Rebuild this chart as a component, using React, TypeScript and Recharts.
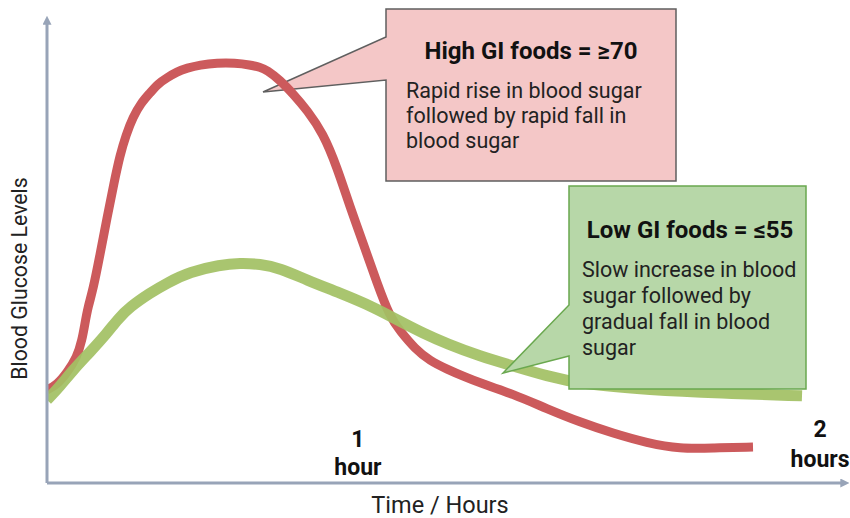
import React from "react";
import { LineChart, Line, XAxis, YAxis, Label } from "recharts";

// Minutes after eating (x) and relative blood glucose level (y, 0–100)
const highGiTime = [0, 2.01, 4.02, 6.03, 7.04, 7.64, 8.24, 9.25, 10.65, 12.06, 13.47, 14.67, 15.88, 17.29, 18.89, 20.7, 22.31, 24.12, 26.13, 28.14, 30.75, 34.17, 37.79, 40.8, 42.81, 44.22, 46.83, 49.65, 52.26, 55.48, 58.29, 60.9, 63.52, 66.33, 68.94, 70.95, 73.97, 76.98, 80.4, 84.02, 87.04, 93.67, 100.5, 107.14, 113.77, 120.6, 127.24, 133.87, 141.91];
const highGiLevel = [20.2, 21.3, 23.9, 27.3, 31.0, 34.7, 38.2, 41.9, 49.5, 57.5, 65.1, 71.1, 75.5, 79.4, 82.4, 84.6, 86.6, 87.9, 89.2, 90.0, 90.7, 91.1, 91.1, 90.7, 90.2, 89.6, 87.4, 84.2, 80.9, 75.9, 68.5, 59.9, 52.1, 43.4, 36.0, 33.0, 29.1, 26.5, 24.7, 23.0, 21.7, 19.3, 16.1, 13.2, 10.8, 8.7, 7.4, 7.6, 7.8];

const lowGiTime = [0, 2.61, 5.23, 8.64, 12.06, 14.27, 16.68, 20.7, 24.12, 28.74, 34.77, 38.79, 42.81, 46.83, 52.26, 58.89, 65.53, 70.35, 75.58, 80.4, 87.04, 93.67, 100.5, 107.14, 121.21, 135.28, 151.76];
const lowGiLevel = [18.0, 21.0, 24.5, 28.4, 32.5, 35.6, 38.2, 41.2, 43.4, 45.8, 47.3, 47.7, 47.5, 46.6, 44.0, 41.2, 38.2, 35.4, 32.5, 30.2, 27.5, 25.4, 23.2, 21.5, 20.2, 19.5, 18.9];

const hourTicks = [62.5, 155.4];
const hourTickLabels = [["1", "hour"], ["2", "hours"]];

const yAxisTitle = "Blood Glucose Levels";
const xAxisTitle = "Time / Hours";

const highTitle = "High GI foods = \u226570";
const highBody = ["Rapid rise in blood sugar", "followed by rapid fall in", "blood sugar"];
const lowTitle = "Low GI foods = \u226455";
const lowBody = ["Slow increase in blood", "sugar followed by", "gradual fall in blood", "sugar"];

const highData = highGiTime.map((t, i) => ({ t, v: highGiLevel[i] }));
const lowData = lowGiTime.map((t, i) => ({ t, v: lowGiLevel[i] }));

const FONT = "Roboto, 'Liberation Sans', sans-serif";
const AXIS = "#98a4b8";

const tickOffsets = [
  [-36, -8],
  [-46, -16],
];

const HourTick = (props: any) => {
  const { x, y, index } = props;
  const lines = hourTickLabels[index] || [];
  const offs = tickOffsets[index] || [0, 0];
  return (
    <g>
      {lines.map((s, i) => (
        <text
          key={i}
          x={x}
          y={y + offs[i]}
          textAnchor="middle"
          fontFamily={FONT}
          fontWeight={700}
          fontSize={23}
          fill="#111"
        >
          {s}
        </text>
      ))}
    </g>
  );
};

export default function App() {
  return (
    <div style={{ position: "absolute", left: 0, top: 0, width: 850, height: 518, background: "#fff" }}>
      {/* underlay: High GI callout */}
      <svg width={850} height={518} style={{ position: "absolute", left: 0, top: 0 }}>
        <defs>
          <marker id="axArrow" viewBox="0 0 10 10" refX="3" refY="5" markerWidth="3" markerHeight="3" orient="auto-start-reverse">
            <path d="M0,0 L10,5 L0,10 z" fill={AXIS} />
          </marker>
        </defs>
        <path
          d="M386,9 H676 V181 H386 V80 L263,92 L386,37 Z"
          fill="#f4c7c7"
          stroke="#5f5f5f"
          strokeWidth={1.5}
        />
        <text x={531} y={59} textAnchor="middle" fontFamily={FONT} fontWeight={700} fontSize={24} fill="#111">
          {highTitle}
        </text>
        {highBody.map((s, i) => (
          <text key={i} x={406} y={98 + i * 25} fontFamily={FONT} fontSize={21.5} fill="#222">
            {s}
          </text>
        ))}
      </svg>

      <div style={{ position: "absolute", left: 0, top: 0 }}>
        <LineChart width={850} height={518} margin={{ top: 22, right: 7, bottom: 0, left: 0 }}>
          <XAxis
            dataKey="t"
            type="number"
            domain={[0, 160]}
            ticks={hourTicks}
            tick={<HourTick />}
            tickLine={false}
            tickSize={0}
            tickMargin={0}
            height={35}
            axisLine={{ stroke: AXIS, strokeWidth: 3, markerEnd: "url(#axArrow)" }}
            allowDataOverflow
          >
            <Label
              content={(p: any) => {
                const vb = p.viewBox || { x: 47, y: 483, width: 796 };
                return (
                  <text x={vb.x + vb.width / 2 - 5} y={513} textAnchor="middle" fontFamily={FONT} fontSize={23.5} fill="#222">
                    {xAxisTitle}
                  </text>
                );
              }}
            />
          </XAxis>
          <YAxis
            type="number"
            domain={[0, 100]}
            tick={false}
            tickLine={false}
            width={47}
            axisLine={{ stroke: AXIS, strokeWidth: 3, markerStart: "url(#axArrow)" }}
          >
            <Label
              content={(p: any) => {
                const vb = p.viewBox || { x: 0, y: 22, width: 47, height: 461 };
                const cx = 19;
                const cy = vb.y + vb.height / 2 + 26;
                return (
                  <text
                    x={cx}
                    y={cy}
                    transform={`rotate(-90, ${cx}, ${cy})`}
                    textAnchor="middle"
                    dominantBaseline="central"
                    fontFamily={FONT}
                    fontSize={21.3}
                    fill="#222"
                  >
                    {yAxisTitle}
                  </text>
                );
              }}
            />
          </YAxis>
          <Line
            data={highData}
            dataKey="v"
            type="basis"
            stroke="#cc5a5c"
            strokeWidth={9}
            dot={false}
            activeDot={false}
            isAnimationActive={false}
          />
          <Line
            data={lowData}
            dataKey="v"
            type="basis"
            stroke="#a2c164"
            strokeOpacity={0.93}
            strokeWidth={11}
            dot={false}
            activeDot={false}
            isAnimationActive={false}
          />
        </LineChart>
      </div>

      {/* overlay: Low GI callout */}
      <svg width={850} height={518} style={{ position: "absolute", left: 0, top: 0, pointerEvents: "none" }}>
        <path
          d="M569,186 H806 V389 H569 V356 L503,373 L569,305 Z"
          fill="#b7d7a8"
          stroke="#6aa84f"
          strokeWidth={1.5}
        />
        <text x={690} y={238} textAnchor="middle" fontFamily={FONT} fontWeight={700} fontSize={24} fill="#111">
          {lowTitle}
        </text>
        {lowBody.map((s, i) => (
          <text key={i} x={582} y={277 + i * 26} fontFamily={FONT} fontSize={21.5} fill="#222">
            {s}
          </text>
        ))}
      </svg>
    </div>
  );
}
